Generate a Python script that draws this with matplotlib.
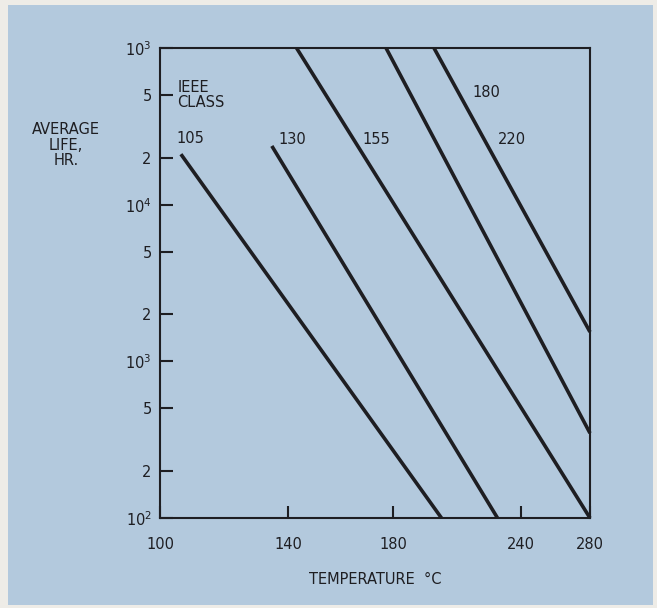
import matplotlib
matplotlib.use("Agg")
import matplotlib.pyplot as plt
from matplotlib.patches import Rectangle
import numpy as np

# ---- data ----
class_labels = ['105', '130', '155', '180', '220']
start_temp = [106.0, 134.5, 143.0, 177.0, 197.6]      # deg C
start_life = [2.1e4, 2.37e4, 1e5, 1e5, 1e5]           # hours
end_temp = [201.0, 228.0, 280.0, 280.0, 280.0]
end_life = [100.0, 100.0, 100.0, 348.0, 1540.0]

x_ticks = [100, 140, 180, 240, 280]
x_tick_labels = ['100', '140', '180', '240', '280']
y_ticks = [1e2, 2e2, 5e2, 1e3, 2e3, 5e3, 1e4, 2e4, 5e4, 1e5]
y_tick_labels = ['$10^2$', '2', '5', '$10^3$', '2', '5', '$10^4$', '2', '5', '$10^3$']

BLUE = '#b3c9dd'
INK = '#1e1e22'
FONT = 'DejaVu Sans'

plt.rcParams['font.family'] = [FONT]

W, H = 657, 608
fig = plt.figure(figsize=(W / 100, H / 100), dpi=100)
fig.patch.set_facecolor('#eeece7')
fig.patches.append(Rectangle((8 / W, 3 / H), 645 / W, 600 / H,
                             transform=fig.transFigure, facecolor=BLUE,
                             edgecolor='none', zorder=-10))

ax = fig.add_axes([160 / W, 1 - 518 / H, 430 / W, 470 / H])
ax.set_zorder(5)
ax.set_facecolor('none')

# Arrhenius-type temperature axis (reciprocal absolute temperature)
def fwd(t):
    return -1.0 / (np.asarray(t, dtype=float) + 273.15)

def inv(u):
    return -1.0 / np.asarray(u, dtype=float) - 273.15

ax.set_xscale('function', functions=(fwd, inv))
ax.set_yscale('log')
ax.set_xlim(100, 280)
ax.set_ylim(1e2, 1e5)

for st, sl, et, el in zip(start_temp, start_life, end_temp, end_life):
    ax.plot([st, et], [sl, el], color=INK, lw=2.6, solid_capstyle='butt',
            clip_on=False, zorder=3)

for sp in ax.spines.values():
    sp.set_linewidth(1.5)
    sp.set_color(INK)

ax.set_xticks(x_ticks)
ax.set_xticklabels(x_tick_labels)
ax.set_yticks(y_ticks)
ax.set_yticklabels(y_tick_labels)
ax.minorticks_off()
ax.tick_params(axis='both', direction='in', length=9, width=1.5, color=INK,
               labelsize=10.5, labelcolor=INK)
ax.tick_params(axis='x', pad=14)
ax.tick_params(axis='y', pad=6)

ax.set_xlabel('TEMPERATURE  °C', fontsize=10.5, color=INK, labelpad=14)

fig.text(66 / W, 1 - 145 / H, 'AVERAGE\nLIFE,\nHR.', ha='center', va='center',
         fontsize=10.5, color=INK, linespacing=1.05, zorder=6)

ax.text(0.04, 0.899, 'IEEE\nCLASS', transform=ax.transAxes, ha='left',
        va='center', fontsize=10.5, color=INK, linespacing=1.0)

label_pos = [(0.07, 0.808), (0.307, 0.806), (0.503, 0.806),
             (0.760, 0.906), (0.819, 0.806)]
for lab, (px, py) in zip(class_labels, label_pos):
    ax.text(px, py, lab, transform=ax.transAxes, ha='center', va='center',
            fontsize=10.5, color=INK)

fig.savefig('out.png', dpi=100, facecolor=fig.get_facecolor())
